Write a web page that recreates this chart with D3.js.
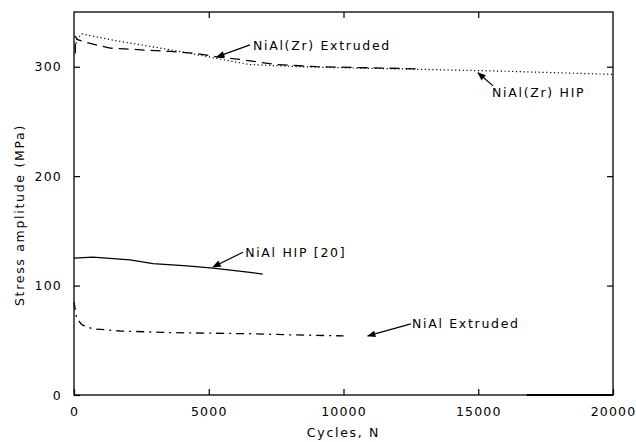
<!DOCTYPE html>
<html>
<head>
<meta charset="utf-8">
<script src="https://cdn.jsdelivr.net/npm/d3@7"></script>
<style>
  body { margin: 0; background: #fff; }
  svg text { font-family: "DejaVu Sans", sans-serif; font-size: 12.5px; fill: #000; letter-spacing: 1.7px; }
</style>
</head>
<body>
<svg width="636" height="442"></svg>
<script>
// cycles / stress amplitude (MPa)
const zrHipX = [50, 120, 300, 1500, 3450, 5000, 6500, 8400, 10000, 12100, 15800, 20000];
const zrHipY = [318, 326, 330, 324, 316, 309, 302, 300, 299, 298, 296, 293];

const zrExtX = [50, 50, 110, 480, 1340, 2150, 2710, 3560, 4560, 5300, 6050, 7500, 9000, 11000, 12840];
const zrExtY = [312, 328, 325, 322, 317, 316, 315, 314, 312, 309, 307, 302, 300, 299, 298];

const hipX = [0, 700, 2080, 2930, 4190, 5160, 6530, 7000];
const hipY = [125, 126, 123.5, 120, 118, 116, 112, 110.5];

const extX = [0, 100, 300, 700, 1700, 3600, 6500, 8000, 10000];
const extY = [85, 70, 64, 60.5, 58.5, 57, 56, 55, 54];

const baseX = [16800, 20000];
const baseY = [0, 0];

const xTicks = [0, 5000, 10000, 15000, 20000];
const yTicks = [0, 100, 200, 300];

const margin = {top: 12, right: 23, bottom: 47, left: 74};
const width = 636 - margin.left - margin.right;
const height = 442 - margin.top - margin.bottom;

const svg = d3.select("svg");
const g = svg.append("g").attr("transform", `translate(${margin.left},${margin.top})`);

const x = d3.scaleLinear().domain([0, 20000]).range([0, width]);
const y = d3.scaleLinear().domain([0, 350]).range([height, 0]);

// frame
g.append("rect")
  .attr("width", width).attr("height", height)
  .attr("fill", "none").attr("stroke", "#000").attr("stroke-width", 1.3);

//axes with inward ticks
g.append("g").attr("transform", `translate(0,${height})`)
  .call(d3.axisBottom(x).tickValues(xTicks).tickSizeInner(-6).tickSizeOuter(0).tickPadding(12).tickFormat(d3.format("d")));
g.append("g")
  .call(d3.axisLeft(y).tickValues(yTicks).tickSizeInner(-6).tickSizeOuter(0).tickPadding(12));
g.append("g")
  .call(d3.axisTop(x).tickValues(xTicks.slice(1, 4)).tickSizeInner(-6).tickSizeOuter(0).tickFormat(""));
g.append("g").attr("transform", `translate(${width},0)`)
  .call(d3.axisRight(y).tickValues(yTicks.slice(1)).tickSizeInner(-6).tickSizeOuter(0).tickFormat(""));

g.selectAll(".domain").remove();
g.selectAll(".tick line").attr("stroke", "#000").attr("stroke-width", 1.2);
g.selectAll(".tick text").style("font-size", "12.5px").style("letter-spacing", "1.2px");

const series = [
  {xs: zrHipX, ys: zrHipY, dash: "1.2,2.6", w: 1.2},
  {xs: zrExtX, ys: zrExtY, dash: "10,6", w: 1.3},
  {xs: hipX, ys: hipY, dash: null, w: 1.3},
  {xs: extX, ys: extY, dash: "8,5,2,5", w: 1.3},
  {xs: baseX, ys: baseY, dash: null, w: 2}
];

series.forEach(s => {
  const pts = s.xs.map((v, i) => [v, s.ys[i]]);
  g.append("path")
    .attr("d", d3.line().x(d => x(d[0])).y(d => y(d[1]))(pts))
    .attr("fill", "none")
    .attr("stroke", "#000")
    .attr("stroke-width", s.w)
    .attr("stroke-dasharray", s.dash);
});

// arrowhead
svg.append("defs").append("marker")
  .attr("id", "arr").attr("viewBox", "0 0 10 10").attr("refX", 9).attr("refY", 5)
  .attr("markerWidth", 9).attr("markerHeight", 7).attr("orient", "auto")
  .append("path").attr("d", "M0,1 L10,5 L0,9 Z").attr("fill", "#000");

// labels: text position and arrow from (fx,fy) to (ax,ay), all in data units
const labels = [
  {t: "NiAl(Zr) Extruded", tx: 6640, ty: 315.5, fx: 6530, fy: 320, ax: 5300, ay: 309},
  {t: "NiAl(Zr) HIP", tx: 15510, ty: 272.5, fx: 15550, fy: 282.5, ax: 14990, ay: 294.5},
  {t: "NiAl HIP [20]", tx: 6350, ty: 126, fx: 6270, fy: 130.5, ax: 5160, ay: 117},
  {t: "NiAl Extruded", tx: 12540, ty: 61, fx: 12500, fy: 65, ax: 10900, ay: 54}
];

labels.forEach(l => {
  g.append("line")
    .attr("x1", x(l.fx)).attr("y1", y(l.fy))
    .attr("x2", x(l.ax)).attr("y2", y(l.ay))
    .attr("stroke", "#000").attr("stroke-width", 1.2)
    .attr("marker-end", "url(#arr)");
  g.append("text").attr("x", x(l.tx)).attr("y", y(l.ty)).text(l.t);
});

// axis titles
svg.append("text")
  .attr("x", margin.left + width / 2).attr("y", 437)
  .attr("text-anchor", "middle").text("Cycles, N");
svg.append("text")
  .attr("transform", `translate(24,215) rotate(-90)`)
  .attr("text-anchor", "middle").text("Stress amplitude (MPa)");
</script>
</body>
</html>
